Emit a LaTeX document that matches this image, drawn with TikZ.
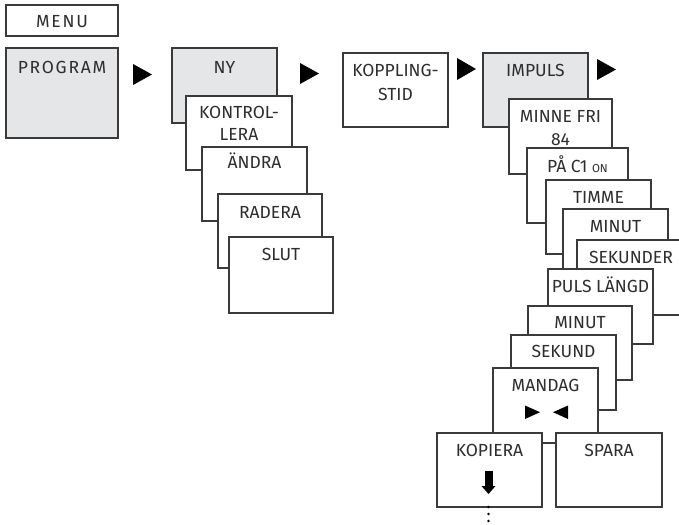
\documentclass[tikz,border=0pt]{standalone}
\usepackage{fontspec}
\setmainfont{Fira Sans}
\definecolor{linec}{HTML}{3A3A3A}
\definecolor{textc}{HTML}{2E2E2E}
\definecolor{boxgray}{HTML}{E5E6E8}
\begin{document}
\begin{tikzpicture}[x=1pt,y=-1pt,
  box/.style={draw=linec, line width=1.1pt, fill=white, anchor=north west, inner sep=0pt, outer sep=0pt},
  gbox/.style={box, fill=boxgray},
  txt/.style={anchor=base, inner sep=0pt, text=textc, font=\fontsize{17.5}{20}\selectfont},
  widetxt/.style={txt, font=\fontsize{17.5}{20}\selectfont\addfontfeature{LetterSpace=10}},
  tri/.style={fill=black}]
\useasboundingbox (0,0) rectangle (679,524);
\clip (0,0) rectangle (679,524);
% MENU / PROGRAM
\node[box, minimum width=112pt, minimum height=31pt] (menu) at (6,5) {};
\node[widetxt] (menut) at ([yshift=-23pt]menu.north) {MENU};
\node[gbox, minimum width=112pt, minimum height=90pt] (program) at (6,48) {};
\node[widetxt] (programt) at ([yshift=-26pt]program.north) {PROGRAM};
\fill[tri] (133,64) -- (133,85) -- (152,74.5) -- cycle;
% NY stack
\node[gbox, minimum width=105pt, minimum height=75pt] (ny) at (172,48) {};
\node[txt] (nyt) at ([yshift=-26pt]ny.north) {NY};
\node[box, minimum width=106pt, minimum height=74pt] (kontr) at (186,96) {};
\node[txt] (kontrt1) at ([yshift=-22pt]kontr.north) {KONTROL-};
\node[txt] (kontrt2) at ([yshift=-44pt]kontr.north) {LERA};
\node[box, minimum width=105pt, minimum height=74pt] (andra) at (202,147) {};
\node[txt] (andrat) at ([yshift=-21pt]andra.north) {ÄNDRA};
\node[box, minimum width=104pt, minimum height=74pt] (radera) at (218,194) {};
\node[txt] (raderat) at ([yshift=-24pt]radera.north) {RADERA};
\node[box, minimum width=104pt, minimum height=76pt] (slut) at (229,237) {};
\node[txt] (slutt) at ([yshift=-23pt]slut.north) {SLUT};
\fill[tri] (300,63) -- (300,84) -- (319,73.5) -- cycle;
% KOPPLINGSTID
\node[box, minimum width=105pt, minimum height=74pt] (koppl) at (343,53) {};
\node[txt] (kopplt1) at ([yshift=-24pt]koppl.north) {KOPPLING-};
\node[txt] (kopplt2) at ([yshift=-47pt]koppl.north) {STID};
\fill[tri] (457,58) -- (457,80) -- (476,69) -- cycle;
% IMPULS stack
\node[gbox, minimum width=105pt, minimum height=74pt] (impuls) at (483,53) {};
\node[txt] (impulst) at ([yshift=-24pt]impuls.north) {IMPULS};
\fill[tri] (597,59) -- (597,80) -- (616,69.5) -- cycle;
\node[box, minimum width=103pt, minimum height=75pt] (minne) at (509,99) {};
\node[txt] (minnet1) at ([yshift=-23pt]minne.north) {MINNE FRI};
\node[txt] (minnet2) at ([yshift=-46pt]minne.north) {84};
\node[box, minimum width=101pt, minimum height=75pt] (pa) at (527,148) {};
\node[txt] (pat) at ([yshift=-24pt]pa.north) {PÅ C1 {\fontsize{11.5}{12}\selectfont ON}};
\node[box, minimum width=105pt, minimum height=74pt] (timme) at (546,180) {};
\node[txt] (timmet) at ([yshift=-23pt]timme.north) {TIMME};
\node[box, minimum width=105pt, minimum height=74pt] (minut) at (563,209) {};
\node[txt] (minutt) at ([yshift=-23pt]minut.north) {MINUT};
\node[box, minimum width=108pt, minimum height=75pt] (sekunder) at (577,240) {};
\node[txt] (sekundert) at ([yshift=-23pt]sekunder.north) {SEKUNDER};
\node[box, minimum width=105pt, minimum height=75pt] (puls) at (548,269) {};
\node[txt] (pulst) at ([yshift=-23pt]puls.north) {PULS LÄNGD};
\node[box, minimum width=104pt, minimum height=74pt] (minuttwo) at (528,306) {};
\node[txt] (minuttwot) at ([yshift=-22pt]minuttwo.north) {MINUT};
\node[box, minimum width=105pt, minimum height=75pt] (sekund) at (511,335) {};
\node[txt] (sekundt) at ([yshift=-22pt]sekund.north) {SEKUND};
\node[box, minimum width=105pt, minimum height=75pt] (mandag) at (493,368) {};
\node[txt] (mandagt) at ([yshift=-23pt]mandag.north) {MANDAG};
\fill[tri] (525,405.5) -- (525,419) -- (540,412.2) -- cycle;
\fill[tri] (568,405.5) -- (568,419) -- (553,412.2) -- cycle;
% KOPIERA / SPARA
\node[box, minimum width=105pt, minimum height=74pt] (kopiera) at (437,433) {};
\node[txt] (kopierat) at ([yshift=-23pt]kopiera.north) {KOPIERA};
\fill[tri] (484.5,471) rectangle (492.5,487);
\fill[tri] (481.5,486) -- (495.5,486) -- (488.5,494) -- cycle;
\node[box, minimum width=106pt, minimum height=74pt] (spara) at (556,433) {};
\node[txt] (sparat) at ([yshift=-23pt]spara.north) {SPARA};
\foreach \yy in {507,514,521} \fill[tri] (488.5,\yy) circle[radius=1.4pt];
\end{tikzpicture}
\end{document}
